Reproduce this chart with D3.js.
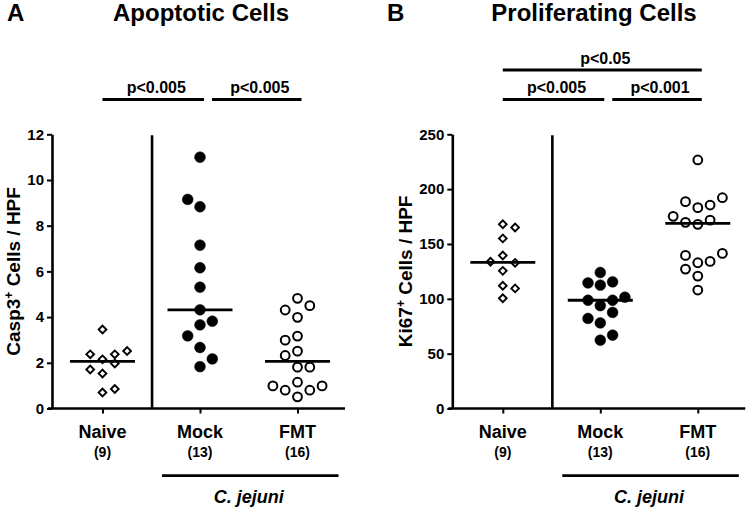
<!DOCTYPE html>
<html>
<head>
<meta charset="utf-8">
<script src="https://cdn.jsdelivr.net/npm/d3@7/dist/d3.min.js"></script>
<style>
  html, body { margin: 0; padding: 0; background: #fff; }
  svg { display: block; font-family: "Liberation Sans", Arial, Helvetica, sans-serif; font-weight: bold; }
</style>
</head>
<body>
<svg id="chart" width="747" height="510"></svg>
<script>
// ---------- data ----------
const groups = ["Naive", "Mock", "FMT"];
const groupCounts = ["(9)", "(13)", "(16)"];
const infectionLabel = "C. jejuni";

// Panel A: Casp3+ cells / HPF
const apopNaive     = [3.46, 2.52, 2.37, 2.37, 2.15, 1.97, 1.71, 1.53, 0.85, 0.70];
const apopNaiveSlot = [0, 2, -1, 1, 0, 1, -1, 0, 1, 0];
const apopMock      = [11.0, 9.15, 8.83, 7.15, 6.16, 5.31, 4.32, 3.82, 3.66, 3.18, 2.67, 2.17, 1.83];
const apopMockSlot  = [0, -1, 0, 0, 0, 0, 0, 1, 0, -1, 0, 1, 0];
const apopFMT       = [4.82, 4.50, 4.31, 3.99, 3.17, 2.99, 2.51, 2.32, 1.81, 1.81, 1.15, 0.99, 0.99, 0.80, 0.80, 0.51];
const apopFMTSlot   = [0, 1, -1, 0, 0, -1, 0, -1, 0, 1, 0, -2, 2, -1, 1, 0];
const apopTicks = [0, 2, 4, 6, 8, 10, 12];
const apopComparisons = [["Naive", "Mock", "p<0.005", 0], ["Mock", "FMT", "p<0.005", 0]];

// Panel B: Ki67+ cells / HPF
const prolNaive     = [168.0, 165.0, 155.1, 139.5, 133.8, 132.8, 125.5, 111.9, 109.5, 100.5];
const prolNaiveSlot = [0, 1, 0, 0, -1, 1, 0, 0, 1, 0];
const prolMock      = [124.0, 115.5, 114.5, 112.5, 101.5, 98.7, 98.7, 93.8, 87.6, 82.1, 78.0, 66.9, 62.3];
const prolMockSlot  = [0, 1, -1, 0, 2, -1, 1, 0, 1, -1, 0, 1, 0];
const prolFMT       = [226.6, 192.2, 188.6, 185.5, 183.1, 175.2, 171.8, 169.7, 167.9, 141.4, 139.6, 134.1, 132.9, 127.1, 120.7, 108.0];
const prolFMTSlot   = [0, 2, -1, 1, 0, -2, 1, -1, 0, 2, -1, 1, 0, -1, 0, 0];
const prolTicks = [0, 50, 100, 150, 200, 250];
const prolComparisons = [["Naive", "FMT", "p<0.05", 1], ["Naive", "Mock", "p<0.005", 0], ["Mock", "FMT", "p<0.001", 0]];

// ---------- drawing ----------
const svg = d3.select("#chart");
const markerKind = { Naive: "diamond", Mock: "filled", FMT: "open" };

function drawPanel(cfg) {
  const g = svg.append("g");
  const x0 = cfg.axisX, x1 = cfg.axisX + 293;
  const yTop = 134.3, yBot = 408.5;

  const y = d3.scaleLinear().domain([0, cfg.yMax]).range([yBot, yTop]);
  const x = d3.scalePoint().domain(groups).range([x0 + 50.5, x0 + 245.5]);
  const jitter = d3.scaleLinear().domain([-1, 1]).range([-12.3, 12.3]);

  // panel letter and title
  g.append("text").attr("x", cfg.letterX).attr("y", 21)
    .attr("font-size", 24).text(cfg.letter);
  g.append("text").attr("x", cfg.titleX).attr("y", 21)
    .attr("font-size", 24).attr("text-anchor", "middle").text(cfg.title);

  // y axis
  const yAxis = d3.axisLeft(y).tickValues(cfg.ticks).tickSize(5).tickSizeOuter(0).tickPadding(3);
  const ya = g.append("g").attr("transform", `translate(${x0},0)`).call(yAxis);
  ya.select(".domain").attr("stroke", "#000").attr("stroke-width", 2.6);
  ya.selectAll(".tick line").attr("stroke", "#000").attr("stroke-width", 2);
  ya.selectAll(".tick text").attr("font-size", 15).attr("font-weight", "bold")
    .attr("font-family", "Liberation Sans, Arial, sans-serif").attr("fill", "#000");

  // x axis
  const xAxis = d3.axisBottom(x).tickSize(5).tickSizeOuter(0).tickFormat("");
  const xa = g.append("g").attr("transform", `translate(0,${yBot})`).call(xAxis);
  xa.select(".domain").remove();
  xa.selectAll(".tick line").attr("stroke", "#000").attr("stroke-width", 2);
  g.append("line").attr("x1", x0 - 4).attr("x2", x1).attr("y1", yBot).attr("y2", yBot)
    .attr("stroke", "#000").attr("stroke-width", 2.6);

  // separator between Naive and infected groups
  const sepX = (x("Naive") + x("Mock")) / 2 + 0.8;
  g.append("line").attr("x1", sepX).attr("x2", sepX).attr("y1", yTop + 1).attr("y2", yBot)
    .attr("stroke", "#000").attr("stroke-width", 2.6);

  // y axis title
  const yt = g.append("text")
    .attr("transform", `translate(${cfg.yTitleX},${(yTop + yBot) / 2}) rotate(-90)`)
    .attr("text-anchor", "middle").attr("font-size", 19);
  yt.append("tspan").text(cfg.yTitle[0]);
  yt.append("tspan").attr("font-size", 12).attr("dy", -7).text("+");
  yt.append("tspan").attr("dy", 7).text(cfg.yTitle[1]);

  // points
  cfg.series.forEach(s => {
    const data = s.values.map((v, i) => ({ v, slot: s.slots[i] }));
    const cx = x(s.group);
    const kind = markerKind[s.group];
    if (kind === "diamond") {
      const sym = d3.symbol().type(d3.symbolSquare).size(30);
      g.selectAll(null).data(data).enter().append("path")
        .attr("d", sym)
        .attr("transform", d => `translate(${cx + jitter(d.slot)},${y(d.v)}) rotate(45)`)
        .attr("fill", "#fff").attr("stroke", "#000").attr("stroke-width", 1.9);
    } else {
      g.selectAll(null).data(data).enter().append("circle")
        .attr("cx", d => cx + jitter(d.slot)).attr("cy", d => y(d.v))
        .attr("r", kind === "filled" ? 5.4 : 4.4)
        .attr("fill", kind === "filled" ? "#000" : "#fff")
        .attr("stroke", "#000").attr("stroke-width", kind === "filled" ? 0.5 : 2);
    }
    // median line
    const med = d3.median(s.values);
    g.append("line").attr("x1", cx - 32.5).attr("x2", cx + 32.5)
      .attr("y1", y(med)).attr("y2", y(med))
      .attr("stroke", "#000").attr("stroke-width", 2.8);
  });

  // group labels
  groups.forEach((grp, i) => {
    g.append("text").attr("x", x(grp)).attr("y", 437.5).attr("font-size", 18)
      .attr("text-anchor", "middle").text(grp);
    g.append("text").attr("x", x(grp)).attr("y", 457).attr("font-size", 14)
      .attr("text-anchor", "middle").text(groupCounts[i]);
  });

  // C. jejuni bracket
  g.append("line").attr("x1", x("Mock") - 38).attr("x2", x("FMT") + 41)
    .attr("y1", 475.7).attr("y2", 475.7).attr("stroke", "#000").attr("stroke-width", 2.8);
  g.append("text").attr("x", (x("Mock") + x("FMT")) / 2).attr("y", 503)
    .attr("font-size", 18).attr("font-style", "italic").attr("text-anchor", "middle")
    .text(infectionLabel);

  // significance bars
  cfg.comparisons.forEach(([a, b, label, row]) => {
    const lx1 = x(a) + (a === "Mock" ? 12 : 0);
    const lx2 = x(b) + 4;
    const ly = row === 0 ? 99.5 : 70;
    g.append("line").attr("x1", lx1).attr("x2", lx2).attr("y1", ly).attr("y2", ly)
      .attr("stroke", "#000").attr("stroke-width", 2.8);
    g.append("text").attr("x", (lx1 + lx2) / 2 + 3).attr("y", ly - 6.5)
      .attr("font-size", 16).attr("text-anchor", "middle").text(label);
  });
}

drawPanel({
  letter: "A", letterX: 7, title: "Apoptotic Cells", titleX: 201,
  axisX: 52, yMax: 12, ticks: apopTicks, yTitleX: 20, yTitle: ["Casp3", " Cells / HPF"],
  series: [
    { group: "Naive", values: apopNaive, slots: apopNaiveSlot },
    { group: "Mock", values: apopMock, slots: apopMockSlot },
    { group: "FMT", values: apopFMT, slots: apopFMTSlot }
  ],
  comparisons: apopComparisons
});

drawPanel({
  letter: "B", letterX: 387, title: "Proliferating Cells", titleX: 594,
  axisX: 452.3, yMax: 250, ticks: prolTicks, yTitleX: 412, yTitle: ["Ki67", " Cells / HPF"],
  series: [
    { group: "Naive", values: prolNaive, slots: prolNaiveSlot },
    { group: "Mock", values: prolMock, slots: prolMockSlot },
    { group: "FMT", values: prolFMT, slots: prolFMTSlot }
  ],
  comparisons: prolComparisons
});
</script>
</body>
</html>
